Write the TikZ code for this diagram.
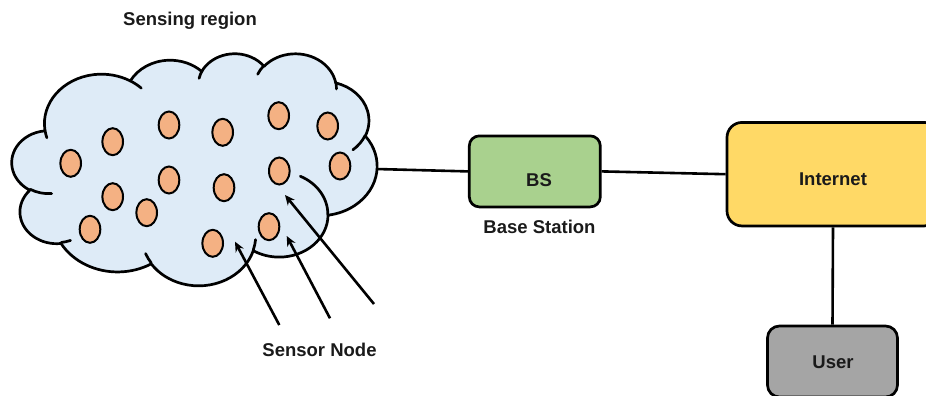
\documentclass[tikz,border=0pt]{standalone}
\usepackage{fontspec}
\setmainfont{Liberation Sans}
\usetikzlibrary{arrows.meta,shapes.geometric}

\definecolor{cloudfill}{HTML}{DEEBF7}
\definecolor{sensorfill}{HTML}{F4B183}
\definecolor{bsfill}{HTML}{A9D18E}
\definecolor{netfill}{HTML}{FFD966}
\definecolor{userfill}{HTML}{A5A5A5}
\definecolor{ink}{HTML}{1A1A1A}

\tikzset{
  % elliptical arc given by radii, start angle and sweep, where the angles are
  % measured as directions from the centre (converted to parametric angles)
  oarc/.style n args={4}{
    start angle={atan2((#1)*sin(#3),(#2)*cos(#3))},
    delta angle={mod(atan2((#1)*sin((#3)+(#4)),(#2)*cos((#3)+(#4)))-atan2((#1)*sin(#3),(#2)*cos(#3))+720,360)},
    x radius=#1pt, y radius=#2pt},
  outline/.style={draw=black, line width=2.7pt, line join=round},
  sensor/.style={ellipse, draw=black, line width=2pt, fill=sensorfill,
    minimum width=20.6pt, minimum height=27pt, inner sep=0pt},
  boxnode/.style={rectangle, draw=black, line width=2.7pt, inner sep=0pt},
  lbl/.style={font=\fontsize{18.5}{22}\selectfont\bfseries, text=ink, inner sep=0pt, anchor=base},
  wire/.style={draw=black, line width=2.6pt},
  pointer/.style={draw=black, line width=2.6pt, -{Stealth[length=10pt,width=9pt]}}
}

\begin{document}
\begin{tikzpicture}[x=1pt,y=-1pt]
\useasboundingbox (0,0) rectangle (926,396);
\clip (0,0) rectangle (926,396);

% ---- sensing region (cloud outline in a 432 x 432 frame) ----
\begin{scope}[shift={(12,53)}, x=1pt, y=1pt, xscale=0.84491, yscale=-0.53704]
  \path[outline, fill=cloudfill] (39.00,143.70)
    arc[oarc={67.53}{91.90}{-190.48748}{123.78053}]
    arc[oarc={53.33}{72.67}{-144.10238}{89.94523}]
    arc[oarc={43.65}{59.45}{-145.80792}{99.72302}]
    arc[oarc={48.57}{65.95}{-130.98607}{117.24173}]
    arc[oarc={53.33}{72.73}{-78.70888}{109.02692}]
    arc[oarc={67.75}{92.20}{-46.26725}{130.26900}]
    arc[oarc={57.85}{78.67}{0.62502}{114.03333}]
    arc[oarc={67.52}{92.15}{22.45160}{115.17255}]
    arc[oarc={77.20}{105.43}{66.24263}{75.71102}]
    arc[oarc={43.60}{59.18}{-274.94208}{146.73557}]
    arc[oarc={43.45}{59.45}{-246.82850}{152.51885}]
    -- cycle;
  % inner fold lines of the cloud
  \draw[outline, line cap=round]
    (46.93,261.77) arc[oarc={43.45}{59.45}{86.74200}{26.42950}]
    (69.28,348.99) arc[oarc={43.60}{59.18}{73.61047}{11.44747}]
    (164.78,390.90) arc[oarc={67.52}{92.15}{137.62415}{14.08110}]
    (288.27,347.51) arc[oarc={67.52}{92.15}{6.45327}{15.99835}]
    (341.29,229.54) arc[oarc={57.85}{78.67}{-70.29235}{70.91737}]
    (417.98,153.54) arc[oarc={53.33}{72.73}{30.31803}{27.75150}]
    (383.24,54.26) arc[oarc={48.57}{65.95}{-13.74433}{14.85890}]
    (290.78,39.52) arc[oarc={48.57}{65.95}{-149.18145}{18.19537}]
    (221.41,47.20) arc[oarc={43.65}{59.45}{-163.49427}{17.68635}]
    (140.00,51.92) arc[oarc={67.53}{91.90}{-66.70695}{12.31935}]
    (41.27,157.89) arc[oarc={67.53}{91.90}{157.65435}{11.85817}];
\end{scope}
\coordinate (cloudE) at (376,169);

% ---- sensor nodes ----
\node[sensor] (s1)  at (70.7,163.3) {};
\node[sensor] (s2)  at (112.7,141.7) {};
\node[sensor] (s3)  at (169,125) {};
\node[sensor] (s4)  at (222.7,132.3) {};
\node[sensor] (s5)  at (278.7,115.7) {};
\node[sensor] (s6)  at (327.7,126) {};
\node[sensor] (s7)  at (340,166) {};
\node[sensor] (s8)  at (279.3,171) {};
\node[sensor] (s9)  at (224,187.7) {};
\node[sensor] (s10) at (169,180) {};
\node[sensor] (s11) at (112.7,196.7) {};
\node[sensor] (s12) at (146.7,212.7) {};
\node[sensor] (s13) at (90,229.3) {};
\node[sensor] (s14) at (269,226.7) {};
\node[sensor] (s15) at (212.7,243.3) {};

% ---- network boxes ----
\node[boxnode, fill=bsfill, minimum width=131pt, minimum height=71pt,
      rounded corners=10pt] (bs) at (534.8,171.4) {};
\node[boxnode, fill=netfill, minimum width=212pt, minimum height=103.5pt,
      rounded corners=15pt] (inet) at (833,174.2) {};
\node[boxnode, fill=userfill, minimum width=130pt, minimum height=71pt,
      rounded corners=12pt] (user) at (832.5,361.5) {};

% ---- links ----
\draw[wire] (cloudE) -- (bs.west);
\draw[wire] (bs.east) -- (inet.west);
\draw[wire] (inet.south) -- (user.north);

% ---- pointers to sensor nodes ----
\coordinate (p1a) at (279.3,325);  \coordinate (p1b) at (235,241.7);
\coordinate (p2a) at (330,318.3);  \coordinate (p2b) at (286.7,236);
\coordinate (p3a) at (374,304);    \coordinate (p3b) at (285,195);
\draw[pointer] (p1a) -- (p1b);
\draw[pointer] (p2a) -- (p2b);
\draw[pointer] (p3a) -- (p3b);

% ---- texts ----
\node[lbl] (sensing)  at (190,26)      {Sensing region};
\node[lbl] (sensorlbl) at (319.5,356.7) {Sensor Node};
\node[lbl] (bslbl)    at (539.5,233.3) {Base Station};
\node[lbl] (bstext)   at (539,186.7)   {BS};
\node[lbl] (inettext) at (833,185)     {Internet};
\node[lbl] (usertext) at (833,368)     {User};
\end{tikzpicture}
\end{document}
